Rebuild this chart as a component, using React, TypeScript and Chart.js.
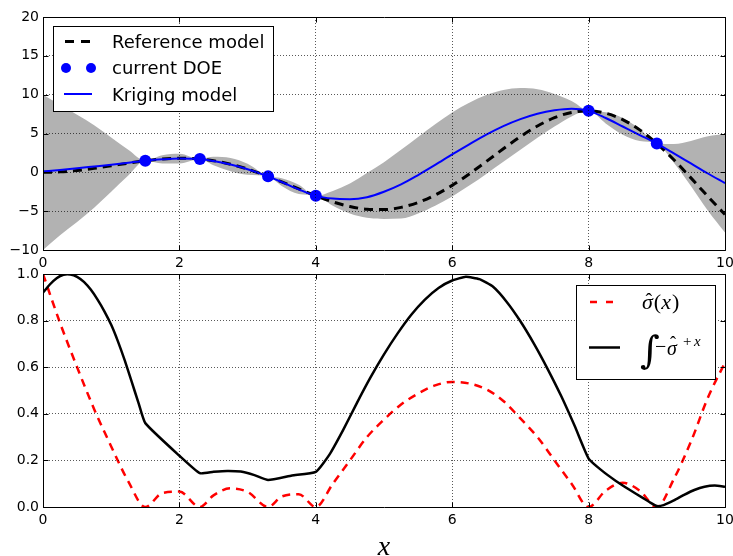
import React, { useEffect, useRef } from "react";
import { Chart, registerables } from "chart.js";

Chart.register(...registerables);

// ---------- data ----------
const X_GRID = [0, 0.25, 0.5, 0.75, 1, 1.25, 1.5, 1.75, 2, 2.3, 2.5, 2.75, 3, 3.3, 3.5, 3.75, 4, 4.25, 4.5, 4.75, 5, 5.25, 5.5, 5.75, 6, 6.25, 6.5, 6.75, 7, 7.25, 7.5, 7.75, 8, 8.25, 8.5, 8.75, 9, 9.25, 9.5, 9.75, 10];

const REFERENCE_MODEL = [0, 0.062, 0.24, 0.511, 0.841, 1.186, 1.496, 1.722, 1.819, 1.715, 1.496, 1.05, 0.423, -0.52, -1.228, -2.143, -3.027, -3.804, -4.399, -4.747, -4.795, -4.509, -3.88, -2.922, -1.676, -0.207, 1.398, 3.038, 4.599, 5.967, 7.035, 7.708, 7.915, 7.613, 6.787, 5.466, 3.709, 1.613, -0.714, -3.115, -5.44];

const KRIGING_MODEL = [0.1, 0.3, 0.52, 0.75, 0.98, 1.24, 1.496, 1.68, 1.78, 1.715, 1.45, 1.0, 0.4, -0.52, -1.25, -2.2, -3.027, -3.38, -3.45, -3.2, -2.5, -1.55, -0.35, 0.95, 2.3, 3.6, 4.85, 5.95, 6.85, 7.55, 8.0, 8.2, 7.915, 7.0, 5.9, 4.8, 3.709, 2.45, 1.15, -0.15, -1.4];

const BAND_UPPER = [10.0, 8.7, 7.4, 6.05, 4.5, 2.9, 1.496, 2.2, 2.4, 1.715, 2.0, 1.85, 1.1, -0.52, -0.75, -1.6, -3.027, -2.4, -1.45, -0.1, 1.3, 2.9, 4.55, 6.2, 7.7, 8.95, 9.95, 10.6, 10.85, 10.7, 10.1, 9.2, 7.915, 7.75, 7.0, 5.6, 3.709, 3.65, 4.05, 4.65, 4.95];

const BAND_LOWER = [-10.0, -8.1, -6.4, -4.55, -2.5, -0.4, 1.496, 1.15, 1.15, 1.715, 0.9, 0.15, -0.3, -0.52, -1.75, -2.8, -3.027, -4.3, -5.3, -5.85, -6.0, -5.95, -5.3, -4.3, -3.1, -1.7, -0.2, 1.35, 2.9, 4.45, 5.9, 7.2, 7.915, 6.3, 4.85, 4.05, 3.709, 1.25, -1.75, -4.95, -7.75];

const DOE_X = [1.5, 2.3, 3.3, 4, 8, 9];
const DOE_Y = [1.496, 1.715, -0.52, -3.027, 7.915, 3.709];

const SIGMA_HAT = [1.0, 0.79, 0.6, 0.42, 0.26, 0.11, 0.0, 0.06, 0.066, 0.0, 0.05, 0.08, 0.065, 0.0, 0.045, 0.055, 0.0, 0.1, 0.2, 0.3, 0.375, 0.44, 0.487, 0.522, 0.537, 0.53, 0.505, 0.455, 0.38, 0.3, 0.2, 0.1, 0.0, 0.07, 0.104, 0.07, 0.0, 0.12, 0.28, 0.47, 0.62];

const INTEGRAL_X = [0, 0.1, 0.2, 0.3, 0.4, 0.5, 0.6, 0.7, 0.8, 0.9, 1.0, 1.1, 1.2, 1.3, 1.4, 1.5, 2.0, 2.3, 2.5, 2.7, 2.9, 3.1, 3.3, 3.65, 4.0, 4.2, 4.4, 4.6, 4.8, 5.0, 5.2, 5.4, 5.6, 5.8, 6.0, 6.2, 6.4, 6.6, 6.8, 7.0, 7.2, 7.4, 7.6, 7.8, 8.0, 8.2, 8.4, 8.6, 8.8, 8.9, 9.0, 9.1, 9.25, 9.4, 9.55, 9.7, 9.85, 10];
const SIGMA_INTEGRAL = [0.92, 0.955, 0.982, 0.997, 0.998, 0.988, 0.966, 0.933, 0.89, 0.84, 0.782, 0.71, 0.628, 0.538, 0.447, 0.36, 0.22, 0.145, 0.151, 0.155, 0.152, 0.137, 0.116, 0.135, 0.151, 0.225, 0.33, 0.445, 0.555, 0.655, 0.745, 0.825, 0.89, 0.94, 0.972, 0.988, 0.978, 0.945, 0.88, 0.797, 0.7, 0.592, 0.475, 0.345, 0.208, 0.155, 0.112, 0.074, 0.038, 0.02, 0.004, 0.008, 0.028, 0.052, 0.073, 0.087, 0.092, 0.087];

const X_TICKS = [0, 2, 4, 6, 8, 10];
const TOP_Y_TICKS = [-10, -5, 0, 5, 10, 15, 20];
const BOTTOM_Y_TICKS = [0, 0.2, 0.4, 0.6, 0.8, 1.0];
const TOP_LEGEND = ["Reference model", "current DOE", "Kriging model"];
const X_LABEL = "x";

// ---------- helpers ----------
const pts = (xs: number[], ys: number[]) => xs.map((x, i) => ({ x, y: ys[i] }));
const W = 733;
const H = 556;
const TICK_FONT = { family: "DejaVu Sans", size: 14 };
const GRID_COLOR = "rgba(0,0,0,0.65)";

const setTicks = (vals: number[]) => (s: any) => {
  s.ticks = vals.map((v) => ({ value: v }));
};

const xScale = () => ({
  type: "linear",
  min: 0,
  max: 10,
  afterBuildTicks: setTicks(X_TICKS),
  afterFit: (s: any) => {
    s.height = 25;
    s.paddingLeft = 0;
    s.paddingRight = 0;
  },
  grid: { color: GRID_COLOR, lineWidth: 1, drawTicks: false, z: 1 },
  border: { display: false, dash: [1, 2] },
  ticks: { color: "#000", font: TICK_FONT, padding: 5, maxRotation: 0, callback: (v: any) => String(v) },
});

const yScale = (min: number, max: number, vals: number[], fmt: (v: number) => string) => ({
  type: "linear",
  min,
  max,
  afterBuildTicks: setTicks(vals),
  afterFit: (s: any) => {
    s.width = 43;
  },
  grid: { color: GRID_COLOR, lineWidth: 1, drawTicks: false, z: 1 },
  border: { display: false, dash: [1, 2] },
  ticks: { color: "#000", font: TICK_FONT, padding: 4, callback: (v: any) => fmt(Number(v)) },
});

const framePlugin = (xVals: number[], yVals: number[]) => ({
  id: "mplFrame",
  afterDraw(chart: any) {
    const { ctx, chartArea: a, scales } = chart;
    const L = Math.round(a.left) + 0.5;
    const R = Math.round(a.right) + 0.5;
    const T = Math.round(a.top) + 0.5;
    const B = Math.round(a.bottom) + 0.5;
    ctx.save();
    ctx.strokeStyle = "#000";
    ctx.lineWidth = 1;
    ctx.setLineDash([]);
    ctx.beginPath();
    ctx.rect(L, T, R - L, B - T);
    const tl = 5;
    xVals.forEach((v) => {
      const p = Math.round(scales.x.getPixelForValue(v)) + 0.5;
      ctx.moveTo(p, B);
      ctx.lineTo(p, B - tl);
      ctx.moveTo(p, T);
      ctx.lineTo(p, T + tl);
    });
    yVals.forEach((v) => {
      const q = Math.round(scales.y.getPixelForValue(v)) + 0.5;
      ctx.moveTo(L, q);
      ctx.lineTo(L + tl, q);
      ctx.moveTo(R, q);
      ctx.lineTo(R - tl, q);
    });
    ctx.stroke();
    ctx.restore();
  },
});

const topLegendPlugin = {
  id: "topLegend",
  afterDraw(chart: any) {
    const ctx = chart.ctx;
    ctx.save();
    ctx.fillStyle = "#fff";
    ctx.fillRect(53.5, 26.5, 220, 85);
    ctx.strokeStyle = "#000";
    ctx.lineWidth = 1;
    ctx.strokeRect(53.5, 26.5, 220, 85);
    // reference model sample
    ctx.setLineDash([9, 7]);
    ctx.lineWidth = 3;
    ctx.beginPath();
    ctx.moveTo(65, 41.5);
    ctx.lineTo(90, 41.5);
    ctx.stroke();
    ctx.setLineDash([]);
    // DOE sample
    ctx.fillStyle = "#0000ff";
    [66, 91].forEach((cx) => {
      ctx.beginPath();
      ctx.arc(cx, 68, 5, 0, Math.PI * 2);
      ctx.fill();
    });
    // kriging sample
    ctx.strokeStyle = "#0000ff";
    ctx.lineWidth = 2;
    ctx.beginPath();
    ctx.moveTo(64, 94);
    ctx.lineTo(92, 94);
    ctx.stroke();
    // labels
    ctx.fillStyle = "#000";
    ctx.font = '18px "DejaVu Sans"';
    ctx.textAlign = "left";
    ctx.textBaseline = "alphabetic";
    ctx.fillText(TOP_LEGEND[0], 112, 47.5);
    ctx.fillText(TOP_LEGEND[1], 112, 74);
    ctx.fillText(TOP_LEGEND[2], 112, 100.5);
    ctx.restore();
  },
};

const bottomLegendPlugin = {
  id: "bottomLegend",
  afterDraw(chart: any) {
    const ctx = chart.ctx;
    ctx.save();
    ctx.fillStyle = "#fff";
    ctx.fillRect(576.5, 285.5, 139, 94);
    ctx.strokeStyle = "#000";
    ctx.lineWidth = 1;
    ctx.strokeRect(576.5, 285.5, 139, 94);
    // sigma sample
    ctx.strokeStyle = "#ff0000";
    ctx.lineWidth = 2.5;
    ctx.setLineDash([7, 9]);
    ctx.beginPath();
    ctx.moveTo(590, 302);
    ctx.lineTo(613.5, 302);
    ctx.stroke();
    ctx.setLineDash([]);
    // integral sample
    ctx.strokeStyle = "#000";
    ctx.beginPath();
    ctx.moveTo(589, 347.5);
    ctx.lineTo(620, 347.5);
    ctx.stroke();

    ctx.fillStyle = "#000";
    ctx.textAlign = "left";
    ctx.textBaseline = "alphabetic";
    // sigma-hat(x)
    let x0 = 642;
    const base1 = 309;
    ctx.font = 'italic 22px "Liberation Serif"';
    const wS = ctx.measureText("σ").width;
    ctx.fillText("σ", x0, base1);
    ctx.font = '20px "Liberation Serif"';
    ctx.textAlign = "center";
    ctx.fillText("ˆ", x0 + wS / 2 + 1.5, base1 - 1);
    ctx.textAlign = "left";
    x0 += wS + 1;
    ctx.font = '22px "Liberation Serif"';
    ctx.fillText("(", x0, base1);
    x0 += ctx.measureText("(").width;
    ctx.font = 'italic 22px "Liberation Serif"';
    ctx.fillText("x", x0, base1);
    x0 += ctx.measureText("x").width + 1;
    ctx.font = '22px "Liberation Serif"';
    ctx.fillText(")", x0, base1);

    // integral label
    ctx.font = '38px "DejaVu Serif"';
    ctx.fillText("∫", 640, 363);
    ctx.font = '20px "Liberation Serif"';
    ctx.fillText("−", 655, 353);
    ctx.font = 'italic 20px "Liberation Serif"';
    const w2 = ctx.measureText("σ").width;
    ctx.fillText("σ", 667, 355);
    ctx.font = '18px "Liberation Serif"';
    ctx.textAlign = "center";
    ctx.fillText("ˆ", 667 + w2 / 2 + 1, 349);
    ctx.textAlign = "left";
    ctx.font = '15px "Liberation Serif"';
    ctx.fillText("+", 683, 346);
    ctx.font = 'italic 15px "Liberation Serif"';
    ctx.fillText("x", 694, 346);

    // x axis label
    ctx.font = 'italic 28px "Liberation Serif"';
    ctx.textAlign = "center";
    ctx.fillText(X_LABEL, 384, 555);
    ctx.restore();
  },
};

export default function App() {
  const ref1 = useRef<HTMLCanvasElement>(null);
  const ref2 = useRef<HTMLCanvasElement>(null);

  useEffect(() => {
    const common: any = {
      responsive: false,
      animation: false,
      events: [],
      plugins: { legend: { display: false }, tooltip: { enabled: false } },
    };

    const c1 = new Chart(ref1.current as HTMLCanvasElement, {
      type: "line",
      data: {
        datasets: [
          {
            label: "current DOE",
            data: pts(DOE_X, DOE_Y),
            showLine: false,
            pointRadius: 6,
            pointBackgroundColor: "#0000ff",
            pointBorderWidth: 0,
            borderColor: "#0000ff",
          },
          {
            label: "Kriging model",
            data: pts(X_GRID, KRIGING_MODEL),
            borderColor: "#0000ff",
            borderWidth: 2,
            pointRadius: 0,
            cubicInterpolationMode: "monotone",
            fill: false,
          },
          {
            label: "Reference model",
            data: pts(X_GRID, REFERENCE_MODEL),
            borderColor: "#000",
            borderWidth: 3,
            borderDash: [9, 6],
            pointRadius: 0,
            cubicInterpolationMode: "monotone",
            fill: false,
          },
          {
            label: "upper",
            data: pts(X_GRID, BAND_UPPER),
            borderColor: "rgba(0,0,0,0)",
            borderWidth: 1,
            pointRadius: 0,
            cubicInterpolationMode: "monotone",
            fill: false,
          },
          {
            label: "lower",
            data: pts(X_GRID, BAND_LOWER),
            borderColor: "rgba(0,0,0,0)",
            borderWidth: 1,
            pointRadius: 0,
            cubicInterpolationMode: "monotone",
            fill: "-1",
            backgroundColor: "rgb(178,178,178)",
          },
        ],
      } as any,
      options: {
        ...common,
        layout: { padding: { left: 0, right: 8, top: 17, bottom: H - 250 - 25 } },
        scales: {
          x: xScale(),
          y: yScale(-10, 20, TOP_Y_TICKS, (v) => String(v).replace("-", "−")),
        },
      } as any,
      plugins: [framePlugin(X_TICKS, TOP_Y_TICKS), topLegendPlugin],
    });

    const c2 = new Chart(ref2.current as HTMLCanvasElement, {
      type: "line",
      data: {
        datasets: [
          {
            label: "integral",
            data: pts(INTEGRAL_X, SIGMA_INTEGRAL),
            borderColor: "#000",
            borderWidth: 2.5,
            pointRadius: 0,
            tension: 0.15,
            borderJoinStyle: "round",
            fill: false,
          },
          {
            label: "sigma",
            data: pts(X_GRID, SIGMA_HAT),
            borderColor: "#ff0000",
            borderWidth: 2.5,
            borderDash: [8, 6],
            pointRadius: 0,
            cubicInterpolationMode: "monotone",
            fill: false,
          },
        ],
      } as any,
      options: {
        ...common,
        layout: { padding: { left: 0, right: 8, top: 274, bottom: H - 507 - 25 } },
        scales: {
          x: xScale(),
          y: yScale(0, 1, BOTTOM_Y_TICKS, (v) => v.toFixed(1)),
        },
      } as any,
      plugins: [framePlugin(X_TICKS, BOTTOM_Y_TICKS), bottomLegendPlugin],
    });

    return () => {
      c1.destroy();
      c2.destroy();
    };
  }, []);

  const cs: any = { position: "absolute", left: 0, top: 0, width: W, height: H };
  return (
    <div style={{ position: "absolute", left: 0, top: 0, width: W, height: H, background: "#fff", overflow: "hidden" }}>
      <canvas ref={ref1} width={W} height={H} style={cs} />
      <canvas ref={ref2} width={W} height={H} style={cs} />
    </div>
  );
}
